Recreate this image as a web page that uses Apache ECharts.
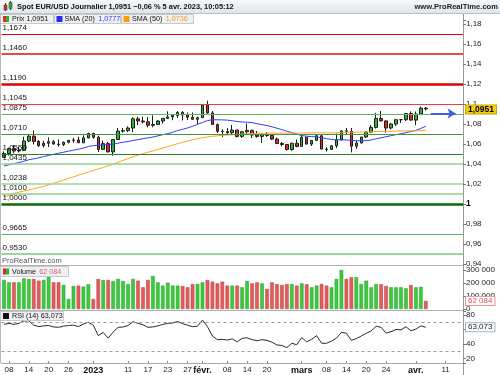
<!DOCTYPE html>
<html><head><meta charset="utf-8">
<script src="https://cdn.jsdelivr.net/npm/echarts@6/dist/echarts.min.js"></script>
<style>html,body{margin:0;padding:0;background:#fff}#c{width:500px;height:375px}</style>
</head><body><div id="c"></div>
<script>
const dates = ['2022-12-07','2022-12-08','2022-12-09','2022-12-12','2022-12-13','2022-12-14','2022-12-15','2022-12-16','2022-12-19','2022-12-20','2022-12-21','2022-12-22','2022-12-23','2022-12-26','2022-12-27','2022-12-28','2022-12-29','2022-12-30',
'2023-01-02','2023-01-03','2023-01-04','2023-01-05','2023-01-06','2023-01-09','2023-01-10','2023-01-11','2023-01-12','2023-01-13','2023-01-16','2023-01-17','2023-01-18','2023-01-19','2023-01-20','2023-01-23','2023-01-24','2023-01-25','2023-01-26','2023-01-27','2023-01-30','2023-01-31',
'2023-02-01','2023-02-02','2023-02-03','2023-02-06','2023-02-07','2023-02-08','2023-02-09','2023-02-10','2023-02-13','2023-02-14','2023-02-15','2023-02-16','2023-02-17','2023-02-20','2023-02-21','2023-02-22','2023-02-23','2023-02-24','2023-02-27','2023-02-28',
'2023-03-01','2023-03-02','2023-03-03','2023-03-06','2023-03-07','2023-03-08','2023-03-09','2023-03-10','2023-03-13','2023-03-14','2023-03-15','2023-03-16','2023-03-17','2023-03-20','2023-03-21','2023-03-22','2023-03-23','2023-03-24','2023-03-27','2023-03-28','2023-03-29','2023-03-30','2023-03-31',
'2023-04-03','2023-04-04','2023-04-05','2023-04-06','2023-04-07','2023-04-10','2023-04-11','2023-04-12','2023-04-13','2023-04-14'];

const xTicks = {'2022-12-08':'08','2022-12-14':'14','2022-12-20':'20','2022-12-26':'26','2023-01-02':'2023','2023-01-11':'11','2023-01-17':'17','2023-01-23':'23','2023-01-27':'27','2023-02-01':'févr.','2023-02-08':'08','2023-02-14':'14','2023-02-20':'20','2023-03-01':'mars','2023-03-08':'08','2023-03-14':'14','2023-03-20':'20','2023-03-24':'24','2023-04-03':'avr.','2023-04-11':'11'};

const opens = [1.0466,1.0505,1.0554,1.0530,1.0536,1.0630,1.0678,1.0626,1.0584,1.0607,1.0623,1.0600,1.0594,1.0617,1.0637,1.0640,1.0612,1.0661,
1.0705,1.0668,1.0546,1.0604,1.0521,1.0645,1.0729,1.0734,1.0760,1.0852,1.0830,1.0822,1.0787,1.0795,1.0830,1.0856,1.0871,1.0886,1.0915,1.0890,1.0868,1.0847,
1.0863,1.0990,1.0910,1.0795,1.0727,1.0725,1.0713,1.0740,1.0676,1.0722,1.0737,1.0690,1.0676,1.0694,1.0685,1.0649,1.0605,1.0595,1.0545,1.0608,
1.0576,1.0668,1.0599,1.0636,1.0682,1.0549,1.0546,1.0582,1.0641,1.0731,1.0727,1.0578,1.0610,1.0670,1.0719,1.0766,1.0856,1.0831,1.0760,1.0800,1.0843,1.0843,1.0905,
1.0839,1.0900,1.0958];
const highs = [1.0526,1.0564,1.0588,1.0569,1.0673,1.0695,1.0736,1.0640,1.0632,1.0666,1.0640,1.0645,1.0624,1.0639,1.0662,1.0672,1.0687,1.0714,
1.0713,1.0683,1.0633,1.0621,1.0646,1.0760,1.0760,1.0776,1.0868,1.0874,1.0874,1.0870,1.0887,1.0840,1.0858,1.0927,1.0893,1.0929,1.0930,1.0914,1.0915,1.0873,
1.1000,1.1033,1.0930,1.0805,1.0747,1.0760,1.0790,1.0740,1.0730,1.0805,1.0744,1.0730,1.0707,1.0720,1.0700,1.0664,1.0620,1.0600,1.0612,1.0645,
1.0692,1.0671,1.0640,1.0695,1.0693,1.0568,1.0590,1.0705,1.0735,1.0760,1.0760,1.0635,1.0670,1.0725,1.0790,1.0911,1.0930,1.0835,1.0811,1.0847,1.0850,1.0906,1.0925,
1.0925,1.0973,1.0970];
const lows = [1.0462,1.0484,1.0508,1.0515,1.0528,1.0620,1.0595,1.0570,1.0565,1.0570,1.0593,1.0573,1.0580,1.0607,1.0612,1.0610,1.0610,1.0658,
1.0652,1.0519,1.0544,1.0516,1.0484,1.0641,1.0714,1.0718,1.0720,1.0788,1.0805,1.0766,1.0767,1.0793,1.0804,1.0850,1.0838,1.0860,1.0835,1.0839,1.0844,1.0800,
1.0863,1.0905,1.0795,1.0710,1.0669,1.0700,1.0700,1.0665,1.0660,1.0700,1.0660,1.0664,1.0612,1.0670,1.0640,1.0598,1.0577,1.0536,1.0533,1.0567,
1.0576,1.0598,1.0580,1.0634,1.0548,1.0525,1.0540,1.0560,1.0637,1.0690,1.0516,1.0551,1.0605,1.0660,1.0712,1.0755,1.0828,1.0713,1.0746,1.0780,1.0810,1.0830,1.0835,
1.0788,1.0888,1.0935];
const closes = [1.0505,1.0554,1.0530,1.0536,1.0630,1.0678,1.0626,1.0584,1.0607,1.0623,1.0600,1.0594,1.0617,1.0637,1.0640,1.0612,1.0661,1.0705,
1.0668,1.0546,1.0604,1.0521,1.0645,1.0729,1.0734,1.0760,1.0852,1.0830,1.0822,1.0787,1.0795,1.0830,1.0856,1.0871,1.0886,1.0915,1.0890,1.0868,1.0847,1.0863,
1.0990,1.0910,1.0795,1.0727,1.0725,1.0713,1.0740,1.0676,1.0722,1.0737,1.0690,1.0676,1.0694,1.0685,1.0649,1.0605,1.0595,1.0545,1.0608,1.0576,
1.0668,1.0599,1.0636,1.0682,1.0549,1.0546,1.0582,1.0641,1.0731,1.0727,1.0578,1.0610,1.0670,1.0719,1.0766,1.0856,1.0831,1.0760,1.0800,1.0843,1.0843,1.0905,1.0839,
1.0900,1.0958,1.0951];

const sma20 = [1.0380,1.0392,1.0403,1.0414,1.0428,1.0442,1.0452,1.0462,1.0474,1.0486,1.0497,1.0508,1.0518,1.0528,1.0538,1.0548,1.0560,1.0575,
1.0584,1.0587,1.0592,1.0592,1.0599,1.0608,1.0618,1.0625,1.0635,1.0644,1.0653,1.0661,1.0670,1.0681,1.0693,1.0704,1.0717,1.0735,1.0747,1.0761,1.0777,1.0797,
1.0815,1.0834,1.0842,1.0842,1.0841,1.0839,1.0833,1.0825,1.0820,1.0818,1.0813,1.0803,1.0794,1.0784,1.0772,1.0758,1.0744,1.0728,1.0714,1.0699,
1.0684,1.0678,1.0674,1.0671,1.0662,1.0653,1.0646,1.0642,1.0642,1.0641,1.0636,1.0633,1.0632,1.0634,1.0640,1.0652,1.0662,1.0673,1.0683,1.0694,1.0702,1.0714,1.0726,
1.0737,1.0756,1.0777];
const sma50 = [1.0070,1.0087,1.0103,1.0118,1.0129,1.0140,1.0152,1.0164,1.0176,1.0190,1.0206,1.0223,1.0239,1.0256,1.0272,1.0288,1.0303,1.0320,
1.0336,1.0350,1.0366,1.0381,1.0399,1.0418,1.0436,1.0453,1.0472,1.0489,1.0503,1.0517,1.0531,1.0545,1.0559,1.0574,1.0589,1.0604,1.0617,1.0630,1.0642,1.0653,
1.0663,1.0670,1.0677,1.0682,1.0687,1.0690,1.0693,1.0696,1.0699,1.0702,1.0704,1.0705,1.0707,1.0708,1.0709,1.0709,1.0709,1.0708,1.0709,1.0709,
1.0711,1.0711,1.0712,1.0713,1.0712,1.0711,1.0711,1.0713,1.0716,1.0718,1.0718,1.0718,1.0719,1.0720,1.0722,1.0725,1.0727,1.0727,1.0728,1.0729,1.0730,1.0731,1.0731,
1.0732,1.0734,1.0736];

const volumes = [223000,205000,205000,205000,236000,231000,231000,218000,223000,249000,205000,205000,185000,77000,177000,180000,172000,190000,
77000,231000,223000,223000,215000,231000,215000,192000,231000,218000,167000,223000,254000,205000,180000,203000,180000,180000,177000,167000,192000,192000,
205000,223000,210000,197000,210000,180000,180000,180000,167000,215000,197000,205000,197000,154000,205000,192000,185000,192000,192000,180000,
197000,190000,167000,180000,192000,180000,167000,231000,300000,231000,244000,244000,192000,218000,167000,192000,190000,177000,167000,167000,167000,159000,185000,
167000,170000,62084];

const rsi = [67,68.5,67,68.5,71.7,72,66,64,65,65.5,63.5,63,64.5,65.5,66,64,67.5,70,
66,51.5,56,48,56.5,63,63.5,65.5,70.8,68.5,66.5,63,63.5,65,67,68.5,69,71,68,66,63.8,64.5,
73,64,51,46,46.4,45.5,47,43,47.9,48.5,46,44.5,46,45,42.5,38.7,38,35,41,39,
48.8,43,46.5,51.5,41,41,44,48,56,55,45,47.5,51,54.7,58,64.5,63,55,57,60,59.5,63.8,58.3,
60.5,65,63.073];

const resistances = [1.1674,1.1460,1.1190,1.1045];
const supports = [1.0875,1.0710,1.0550,1.0435,1.0238,1.0100,1.0000,0.9665,0.9530];
const arrowLevel = 1.0905;
const arrowFrom = '2023-04-06', arrowTo = '2023-04-13';

const FONT = 'Liberation Sans';
const levelStyle = {
  1.1674:{c:'#e60000',w:1}, 1.1460:{c:'#e84a4a',w:2}, 1.1190:{c:'#e00000',w:2.5}, 1.1045:{c:'#e84040',w:1},
  1.0875:{c:'#5cb85c',w:1}, 1.0710:{c:'#3c9a3c',w:1}, 1.0550:{c:'#2f7f2f',w:1}, 1.0435:{c:'#8fd08f',w:1.5},
  1.0238:{c:'#9ad49a',w:1.5}, 1.0100:{c:'#8fd08f',w:1.5}, 1.0000:{c:'#0a6a0a',w:2.5}, 0.9665:{c:'#5cb85c',w:1}, 0.9530:{c:'#7cc47c',w:1.5}
};
const fmt4 = v => v.toFixed(4).replace('.', ',');
const n = closes.length;

function fmtPrice(v){
  const k = Math.round(v*50);
  if (Math.abs(v*50-k) > 1e-6) return '';
  const s = String(+(k/50).toFixed(2)).replace('.', ',');
  return s === '1' ? '{b|1}' : s;
}

const levelLines = resistances.concat(supports).map(v => ({
  yAxis: v,
  lineStyle: {color: levelStyle[v].c, width: levelStyle[v].w, type: 'solid'},
  label: {show: true, position: 'insideStartTop', formatter: fmt4(v), distance: [1, 2], fontSize: 8, color: '#111', fontFamily: FONT}
}));

const chart = echarts.init(document.getElementById('c'), null, {renderer: 'canvas', width: 500, height: 375});

const xAx = i => ({
  type: 'category', gridIndex: i, data: dates, boundaryGap: true,
  axisLine: {show: i === 2, lineStyle: {color: '#aaa'}},
  axisTick: {show: i === 2, inside: true, length: 2, alignWithLabel: true, interval: (idx, val) => !!xTicks[val], lineStyle: {color: '#888'}},
  axisLabel: {show: i === 2, interval: (idx, val) => !!xTicks[val], hideOverlap: false,
    formatter: v => { const t = xTicks[v] || ''; return /^\d\d$/.test(t) ? t : '{b|' + t + '}'; },
    fontSize: 8, color: '#222', fontFamily: FONT, margin: 3,
    rich: {b: {fontWeight: 'bold', fontSize: 9, fontFamily: FONT, color: '#111'}}},
  splitLine: {show: false}
});

const yCommon = {
  position: 'right', splitLine: {show: false},
  axisLine: {show: true, lineStyle: {color: '#999'}},
  axisTick: {show: true, length: 3, lineStyle: {color: '#777'}}
};

const lastClose = closes[n-1];
const lastVol = volumes[n-1];
const lastRsi = rsi[n-1];
const spaced = v => String(v).replace(/\B(?=(\d{3})+(?!\d))/g, ' ');

const option = {
  animation: false,
  backgroundColor: '#fff',
  textStyle: {fontFamily: FONT},
  grid: [
    {left: 1.5, right: 37, top: 20, height: 244},
    {left: 1.5, right: 37, top: 270, height: 39},
    {left: 1.5, right: 37, top: 311, height: 52}
  ],
  xAxis: [xAx(0), xAx(1), xAx(2)],
  yAxis: [
    Object.assign({}, yCommon, {type: 'value', gridIndex: 0, min: 0.94, max: 1.184, interval: 0.02,
      axisLabel: {formatter: fmtPrice, fontSize: 8, color: '#222', margin: 3, fontFamily: FONT, hideOverlap: false, rich: {b: {fontWeight: 'bold', fontSize: 8.5, fontFamily: FONT, color: '#000'}}}}),
    Object.assign({}, yCommon, {type: 'value', gridIndex: 1, min: 0, max: 300000, interval: 100000,
      axisLabel: {formatter: v => v === 0 ? '0' : spaced(v), fontSize: 8, color: '#222', margin: 3, fontFamily: FONT, hideOverlap: false, showMinLabel: true, showMaxLabel: true}}),
    Object.assign({}, yCommon, {type: 'value', gridIndex: 2, min: 13.8, max: 85.5, splitNumber: 3, minInterval: 20, maxInterval: 20,
      axisLabel: {formatter: v => (Math.abs(v % 20) < 1e-6 && v > 0) ? String(v) : '', fontSize: 8, color: '#222', margin: 3, fontFamily: FONT, hideOverlap: false}})
  ],
  series: [
    {
      type: 'candlestick', xAxisIndex: 0, yAxisIndex: 0, barWidth: 3,
      data: opens.map((o, i) => [o, closes[i], lows[i], highs[i]]),
      itemStyle: {color: '#2cb52c', color0: '#e02626', borderColor: '#1d1d1d', borderColor0: '#1d1d1d', borderWidth: 1},
      markLine: {
        silent: true, symbol: 'none', animation: false,
        data: levelLines.concat([
          [{coord: [arrowFrom, arrowLevel], symbol: 'none'},
           {coord: [arrowTo, arrowLevel], symbol: 'arrow', symbolSize: 8,
            lineStyle: {color: '#3f5fe6', width: 2, type: 'solid'}, label: {show: false}}]
        ])
      }
    },
    {type: 'line', name: 'SMA20', xAxisIndex: 0, yAxisIndex: 0, data: sma20, symbol: 'none', lineStyle: {color: '#2e3dff', width: 1}, silent: true},
    {type: 'line', name: 'SMA50', xAxisIndex: 0, yAxisIndex: 0, data: sma50, symbol: 'none', lineStyle: {color: '#ffa31f', width: 1}, silent: true},
    {
      type: 'bar', xAxisIndex: 1, yAxisIndex: 1, barWidth: 3.6,
      data: volumes.map((v, i) => ({value: v, itemStyle: closes[i] >= opens[i]
        ? {color: '#3ccb3c', borderColor: '#22992a', borderWidth: 0.5}
        : {color: '#e35d5d', borderColor: '#b53a3a', borderWidth: 0.5}}))
    },
    {
      type: 'line', xAxisIndex: 2, yAxisIndex: 2, data: rsi, symbol: 'none', lineStyle: {color: '#2a2a2a', width: 1}, silent: true,
      markLine: {silent: true, symbol: 'none', animation: false, data: [
        {yAxis: 70, lineStyle: {color: '#999', width: 1, type: [3, 3]}, label: {show: false}},
        {yAxis: 30, lineStyle: {color: '#999', width: 1, type: [3, 3]}, label: {show: false}}
      ]}
    }
  ]
};
chart.setOption(option);

const pricePx = chart.convertToPixel({yAxisIndex: 0}, lastClose);
const volPx = chart.convertToPixel({yAxisIndex: 1}, lastVol);
const rsiPx = chart.convertToPixel({yAxisIndex: 2}, lastRsi);

const tagX = 466;
chart.setOption({graphic: [
  {type: 'rect', shape: {x: 0, y: 0, width: 500, height: 13}, style: {fill: new echarts.graphic.LinearGradient(0, 0, 0, 1, [{offset: 0, color: '#f6f8fa'}, {offset: 1, color: '#dfe5ea'}])}, z: 0},
  {type: 'line', shape: {x1: 0, y1: 13.5, x2: 500, y2: 13.5}, style: {stroke: '#b9c2ca', lineWidth: 1}},
  {type: 'line', shape: {x1: 5.5, y1: 3, x2: 5.5, y2: 11}, style: {stroke: '#333', lineWidth: 1}},
  {type: 'rect', shape: {x: 4, y: 5, width: 3, height: 5}, style: {fill: '#e02626', stroke: '#333', lineWidth: 0.5}},
  {type: 'line', shape: {x1: 10.5, y1: 1, x2: 10.5, y2: 10}, style: {stroke: '#333', lineWidth: 1}},
  {type: 'rect', shape: {x: 9, y: 2.5, width: 3, height: 6}, style: {fill: '#2cb52c', stroke: '#333', lineWidth: 0.5}},
  {type: 'text', x: 17, y: 7, style: {text: 'Spot EUR/USD Journalier 1,0951 −0,06 % 5 avr. 2023, 10:05:12', font: 'bold 7.4px "Liberation Sans"', fill: '#111', verticalAlign: 'middle'}},
  {type: 'text', x: 498, y: 7, style: {text: 'www.ProRealTime.com', font: 'bold 7.6px "Liberation Sans"', fill: '#222', align: 'right', verticalAlign: 'middle'}},
  {type: 'rect', shape: {x: 0.5, y: 14.5, width: 53, height: 9}, style: {fill: '#eef0f2', stroke: '#c5c9cd', lineWidth: 1}},
  {type: 'rect', shape: {x: 3, y: 16, width: 3, height: 6}, style: {fill: '#e02626'}},
  {type: 'rect', shape: {x: 6, y: 16, width: 3, height: 6}, style: {fill: '#2cb52c'}},
  {type: 'text', x: 12, y: 19.5, style: {text: 'Prix ' + fmt4(lastClose), font: '7.2px "Liberation Sans"', fill: '#111', verticalAlign: 'middle'}},
  {type: 'rect', shape: {x: 54.5, y: 14.5, width: 66, height: 9}, style: {fill: '#eef0f2', stroke: '#c5c9cd', lineWidth: 1}},
  {type: 'rect', shape: {x: 56.5, y: 16, width: 6, height: 6}, style: {fill: '#1f2eff'}},
  {type: 'text', x: 64.5, y: 19.5, style: {text: '{k|SMA (20)} {v|' + fmt4(sma20[n-1]) + '}', rich: {k: {font: '7.2px "Liberation Sans"', fill: '#111'}, v: {font: '7.2px "Liberation Sans"', fill: '#2e3dff'}}, verticalAlign: 'middle'}},
  {type: 'rect', shape: {x: 121.5, y: 14.5, width: 72, height: 9}, style: {fill: '#eef0f2', stroke: '#c5c9cd', lineWidth: 1}},
  {type: 'rect', shape: {x: 123.5, y: 16, width: 6, height: 6}, style: {fill: '#ff9a14'}},
  {type: 'text', x: 132, y: 19.5, style: {text: '{k|SMA (50)} {v|' + fmt4(sma50[n-1]) + '}', rich: {k: {font: '7.2px "Liberation Sans"', fill: '#111'}, v: {font: '7.2px "Liberation Sans"', fill: '#f29a1c'}}, verticalAlign: 'middle'}},
  {type: 'line', shape: {x1: 0, y1: 265.5, x2: 463, y2: 265.5}, style: {stroke: '#b0b0b0', lineWidth: 1}},
  {type: 'line', shape: {x1: 0, y1: 310.5, x2: 463, y2: 310.5}, style: {stroke: '#b0b0b0', lineWidth: 1}},
  {type: 'line', shape: {x1: 0.5, y1: 14, x2: 0.5, y2: 363}, style: {stroke: '#b8b8b8', lineWidth: 1}},
  {type: 'line', shape: {x1: 463.5, y1: 14, x2: 463.5, y2: 375}, style: {stroke: '#999', lineWidth: 1}},
  {type: 'text', x: 2, y: 261, style: {text: 'ProRealTime.com', font: '7.5px "Liberation Sans"', fill: '#555', verticalAlign: 'middle'}},
  {type: 'rect', shape: {x: 0.5, y: 266.5, width: 68, height: 10}, style: {fill: '#eef0f2', stroke: '#c5c9cd', lineWidth: 1}, z: 10},
  {type: 'rect', shape: {x: 3, y: 268.5, width: 3, height: 6}, style: {fill: '#e02626'}, z: 11},
  {type: 'rect', shape: {x: 6, y: 268.5, width: 3, height: 6}, style: {fill: '#2cb52c'}, z: 11},
  {type: 'text', x: 12, y: 272, z: 11, style: {text: '{k|Volume} {v|' + spaced(lastVol) + '}', rich: {k: {font: '7.2px "Liberation Sans"', fill: '#111'}, v: {font: '7.2px "Liberation Sans"', fill: '#e06060'}}, verticalAlign: 'middle'}},
  {type: 'rect', shape: {x: 0.5, y: 311.5, width: 63, height: 9}, style: {fill: '#eef0f2', stroke: '#c5c9cd', lineWidth: 1}, z: 10},
  {type: 'rect', shape: {x: 3, y: 313, width: 6, height: 6}, style: {fill: '#111'}, z: 11},
  {type: 'text', x: 12, y: 316.5, z: 11, style: {text: 'RSI (14) ' + lastRsi.toFixed(3).replace('.', ','), font: '7.2px "Liberation Sans"', fill: '#111', verticalAlign: 'middle'}},
  {type: 'text', x: tagX, y: pricePx + 0.5, z: 20, style: {text: fmt4(lastClose), font: 'bold 8.5px "Liberation Sans"', fill: '#000', verticalAlign: 'middle', lineHeight: 8,
    backgroundColor: '#f5cf14', borderColor: '#c9a400', borderWidth: 1, padding: [0, 2, 0, 2]}},
  {type: 'text', x: tagX, y: volPx, z: 20, style: {text: spaced(lastVol), font: '8px "Liberation Sans"', fill: '#e05050', verticalAlign: 'middle', lineHeight: 8,
    backgroundColor: '#fff', borderColor: '#e69a9a', borderWidth: 1, padding: [0, 2, 0, 2]}},
  {type: 'text', x: tagX, y: rsiPx, z: 20, style: {text: lastRsi.toFixed(3).replace('.', ','), font: '8px "Liberation Sans"', fill: '#222', verticalAlign: 'middle', lineHeight: 8,
    backgroundColor: '#fff', borderColor: '#9fb3c8', borderWidth: 1, padding: [0, 2, 0, 2]}}
]});
</script></body></html>
